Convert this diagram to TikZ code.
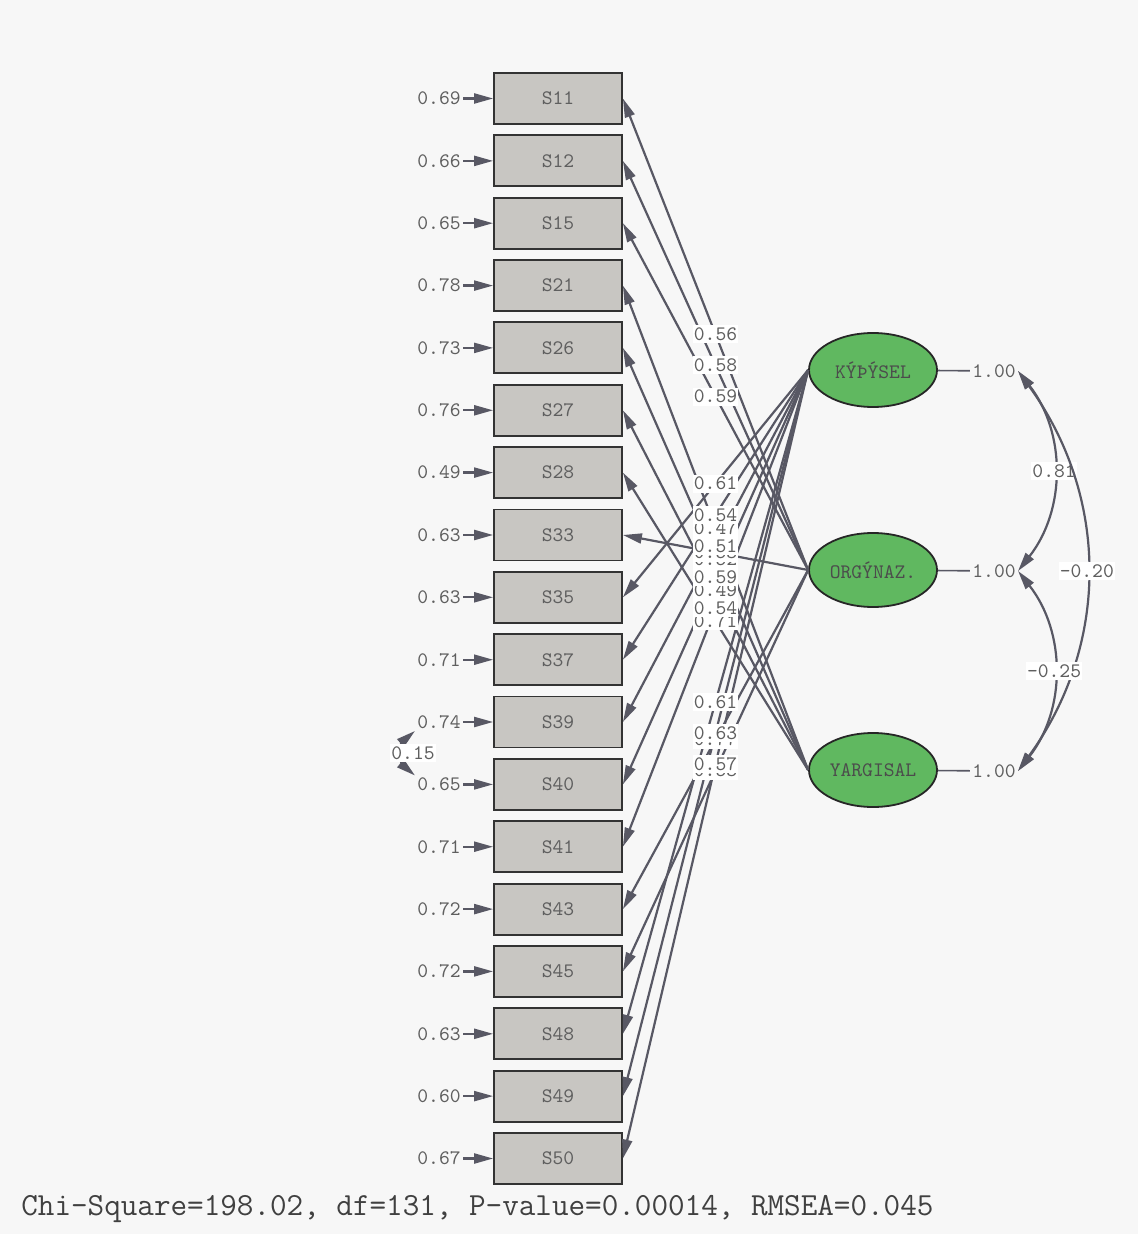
\documentclass[tikz,border=0pt]{standalone}
\usepackage{tikz}
\usetikzlibrary{arrows.meta,shapes.geometric}
\definecolor{boxgray}{RGB}{200,198,194}
\definecolor{lvgreen}{RGB}{96,184,96}
\definecolor{pathgray}{RGB}{88,88,100}
\definecolor{txtgray}{RGB}{95,95,95}
\newcommand{\lisfont}{\ttfamily\fontsize{10.3}{12}\selectfont}
\tikzstyle{obs} = [rectangle, draw=black!80, line width=0.9pt, fill=boxgray, minimum width=64pt, minimum height=25.5pt, inner sep=0pt, font=\lisfont, text=txtgray]
\tikzstyle{lat} = [ellipse, draw=black!85, line width=0.9pt, fill=lvgreen, minimum width=64pt, minimum height=37pt, inner sep=0pt, font=\lisfont, text=black!70]
\tikzstyle{err} = [font=\lisfont, text=txtgray, inner sep=1pt]
\tikzstyle{ld} = [font=\lisfont, text=txtgray, fill=white, inner sep=0.5pt, minimum height=9pt]
\tikzstyle{arr} = [draw=pathgray, line width=1.1pt, -{Triangle[length=9.5pt,width=5pt]}]
\tikzstyle{dbl} = [draw=pathgray, line width=1.1pt, {Triangle[length=9.5pt,width=5pt]}-{Triangle[length=9.5pt,width=5pt]}]

\begin{document}
\begin{tikzpicture}[x=0.5pt,y=-0.5pt]
  \fill [white!97!black] (0,0) rectangle (1138,1234);
  \useasboundingbox (0,0) rectangle (1138,1234);
  % observed variables
  \node (s11) at (558,98.5) [obs] {S11};
  \node (s12) at (558,160.9) [obs] {S12};
  \node (s15) at (558,223.2) [obs] {S15};
  \node (s21) at (558,285.6) [obs] {S21};
  \node (s26) at (558,347.9) [obs] {S26};
  \node (s27) at (558,410.3) [obs] {S27};
  \node (s28) at (558,472.6) [obs] {S28};
  \node (s33) at (558,535.0) [obs] {S33};
  \node (s35) at (558,597.3) [obs] {S35};
  \node (s37) at (558,659.7) [obs] {S37};
  \node (s39) at (558,722.0) [obs] {S39};
  \node (s40) at (558,784.4) [obs] {S40};
  \node (s41) at (558,846.7) [obs] {S41};
  \node (s43) at (558,909.1) [obs] {S43};
  \node (s45) at (558,971.4) [obs] {S45};
  \node (s48) at (558,1033.8) [obs] {S48};
  \node (s49) at (558,1096.1) [obs] {S49};
  \node (s50) at (558,1158.5) [obs] {S50};
  % error variances
  \node (e11) at (439,98.5) [err] {0.69};
  \node (e12) at (439,160.9) [err] {0.66};
  \node (e15) at (439,223.2) [err] {0.65};
  \node (e21) at (439,285.6) [err] {0.78};
  \node (e26) at (439,347.9) [err] {0.73};
  \node (e27) at (439,410.3) [err] {0.76};
  \node (e28) at (439,472.6) [err] {0.49};
  \node (e33) at (439,535.0) [err] {0.63};
  \node (e35) at (439,597.3) [err] {0.63};
  \node (e37) at (439,659.7) [err] {0.71};
  \node (e39) at (439,722.0) [err] {0.74};
  \node (e40) at (439,784.4) [err] {0.65};
  \node (e41) at (439,846.7) [err] {0.71};
  \node (e43) at (439,909.1) [err] {0.72};
  \node (e45) at (439,971.4) [err] {0.72};
  \node (e48) at (439,1033.8) [err] {0.63};
  \node (e49) at (439,1096.1) [err] {0.60};
  \node (e50) at (439,1158.5) [err] {0.67};
  \draw [arr] (e11) -- (s11);
  \draw [arr] (e12) -- (s12);
  \draw [arr] (e15) -- (s15);
  \draw [arr] (e21) -- (s21);
  \draw [arr] (e26) -- (s26);
  \draw [arr] (e27) -- (s27);
  \draw [arr] (e28) -- (s28);
  \draw [arr] (e33) -- (s33);
  \draw [arr] (e35) -- (s35);
  \draw [arr] (e37) -- (s37);
  \draw [arr] (e39) -- (s39);
  \draw [arr] (e40) -- (s40);
  \draw [arr] (e41) -- (s41);
  \draw [arr] (e43) -- (s43);
  \draw [arr] (e45) -- (s45);
  \draw [arr] (e48) -- (s48);
  \draw [arr] (e49) -- (s49);
  \draw [arr] (e50) -- (s50);
  \draw [dbl] (e39.south west) to [bend right=50] node [ld, xshift=4pt] {0.15} (e40.north west);
  % latent variables
  \node (kis) at (873,370) [lat] {KÝÞÝSEL};
  \node (org) at (873,570) [lat] {ORGÝNAZ.};
  \node (yar) at (873,770) [lat] {YARGISAL};
  \node (vk) at (994,371) [err] {1.00};
  \node (vo) at (994,571) [err] {1.00};
  \node (vy) at (994,771) [err] {1.00};
  \draw [pathgray, line width=0.8pt] (kis) -- (vk);
  \draw [pathgray, line width=0.8pt] (org) -- (vo);
  \draw [pathgray, line width=0.8pt] (yar) -- (vy);
  \draw [dbl] (vk.east) to [bend left=38] node [ld] {0.81} (vo.east);
  \draw [dbl] (vk.east) to [bend left=36] node [ld] {-0.20} (vy.east);
  \draw [dbl] (vo.east) to [bend left=38] node [ld] {-0.25} (vy.east);
  % loadings
  \draw [arr] (yar.west) -- (s21.east) coordinate [pos=0.5] (y21);
  \draw [arr] (yar.west) -- (s26.east) coordinate [pos=0.5] (y26);
  \draw [arr] (yar.west) -- (s27.east) coordinate [pos=0.5] (y27);
  \draw [arr] (yar.west) -- (s28.east) coordinate [pos=0.5] (y28);
  \draw [arr] (org.west) -- (s11.east) coordinate [pos=0.5] (o11);
  \draw [arr] (org.west) -- (s12.east) coordinate [pos=0.5] (o12);
  \draw [arr] (org.west) -- (s15.east) coordinate [pos=0.5] (o15);
  \draw [arr] (org.west) -- (s33.east) coordinate [pos=0.5] (o33);
  \draw [arr] (org.west) -- (s43.east) coordinate [pos=0.5] (o43);
  \draw [arr] (org.west) -- (s45.east) coordinate [pos=0.5] (o45);
  \draw [arr] (kis.west) -- (s35.east) coordinate [pos=0.5] (k35);
  \draw [arr] (kis.west) -- (s37.east) coordinate [pos=0.5] (k37);
  \draw [arr] (kis.west) -- (s39.east) coordinate [pos=0.5] (k39);
  \draw [arr] (kis.west) -- (s40.east) coordinate [pos=0.5] (k40);
  \draw [arr] (kis.west) -- (s41.east) coordinate [pos=0.5] (k41);
  \draw [arr] (kis.west) -- (s48.east) coordinate [pos=0.5] (k48);
  \draw [arr] (kis.west) -- (s49.east) coordinate [pos=0.5] (k49);
  \draw [arr] (kis.west) -- (s50.east) coordinate [pos=0.5] (k50);
  \node at (y21) [ld] {0.47};
  \node at (y26) [ld] {0.52};
  \node at (y27) [ld] {0.49};
  \node at (y28) [ld] {0.71};
  \node at (o11) [ld] {0.56};
  \node at (o12) [ld] {0.58};
  \node at (o15) [ld] {0.59};
  \node at (o33) [ld] {0.53};
  \node at (o43) [ld] {0.77};
  \node at (o45) [ld] {0.53};
  \node at (k35) [ld] {0.61};
  \node at (k37) [ld] {0.54};
  \node at (k39) [ld] {0.51};
  \node at (k40) [ld] {0.59};
  \node at (k41) [ld] {0.54};
  \node at (k48) [ld] {0.61};
  \node at (k49) [ld] {0.63};
  \node at (k50) [ld] {0.57};
  % fit statistics
  \node (fit) at (21,1209) [anchor=west, inner sep=0pt, font=\ttfamily\fontsize{16.1}{18}\selectfont, text=black!75] {Chi-Square=198.02, df=131, P-value=0.00014, RMSEA=0.045};
\end{tikzpicture}
\end{document}
